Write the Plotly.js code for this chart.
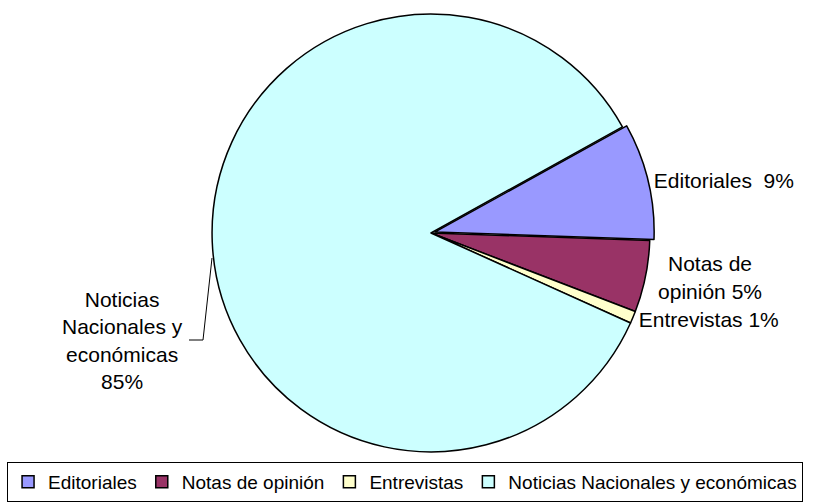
<!DOCTYPE html>
<html>
<head>
<meta charset="utf-8">
<script src="https://cdn.plot.ly/plotly-3.0.1.min.js"></script>
<style>html,body{margin:0;padding:0;background:#fff;}#chart{width:815px;height:502px;}</style>
</head>
<body>
<div id="chart"></div>
<script>
var categories = ["Editoriales", "Notas de opinión", "Entrevistas", "Noticias Nacionales y económicas"];
var values = [8.6, 5.3, 0.9, 85.2];
var sliceColors = ["#9999FF", "#993366", "#FFFFCC", "#CCFFFF"];
var labelTemplates = [
  "%{label}  %{percent:.0%}",
  "Notas de<br>opinión %{percent:.0%}",
  "%{label} %{percent:.0%}",
  ""
];
var pulls = [0.02, 0, 0, 0];

var total = values.reduce(function (a, b) { return a + b; }, 0);
var noticiasPct = Math.round(values[3] / total * 100) + "%";

var FONT = "Liberation Sans, Arial, sans-serif";

var trace = {
  type: "pie",
  labels: categories,
  values: values,
  sort: false,
  direction: "clockwise",
  rotation: 61,
  pull: pulls,
  marker: {colors: sliceColors, line: {color: "#000000", width: 1.5}},
  texttemplate: labelTemplates,
  textposition: "outside",
  outsidetextfont: {family: FONT, size: 21, color: "#000000"},
  hoverinfo: "none",
  domain: {x: [0.2548, 0.8028], y: [0.0911, 0.9807]}
};

function px(x) { return x / 815; }
function py(y) { return 1 - y / 502; }

var layout = {
  width: 815, height: 502,
  margin: {l: 0, r: 0, t: 0, b: 0},
  paper_bgcolor: "#ffffff",
  font: {family: FONT, color: "#000000"},
  showlegend: true,
  legend: {
    orientation: "h",
    x: 0.497, xanchor: "center",
    y: 0, yanchor: "bottom",
    bordercolor: "#000000", borderwidth: 1,
    font: {size: 19, family: FONT},
    itemwidth: 30,
    traceorder: "normal"
  },
  annotations: [{
    xref: "paper", yref: "paper",
    x: px(122), y: py(340),
    xanchor: "center", yanchor: "middle",
    text: "Noticias<br>Nacionales y<br>económicas<br>" + noticiasPct,
    showarrow: false,
    align: "center",
    font: {family: FONT, size: 21, color: "#000000"}
  }],
  shapes: [{
    type: "path",
    xref: "paper", yref: "paper",
    path: "M " + px(212) + "," + py(258) + " L " + px(203) + "," + py(340) + " L " + px(189) + "," + py(340),
    line: {color: "#000000", width: 1}
  }]
};

Plotly.newPlot("chart", [trace], layout, {displayModeBar: false, staticPlot: true});
</script>
</body>
</html>
